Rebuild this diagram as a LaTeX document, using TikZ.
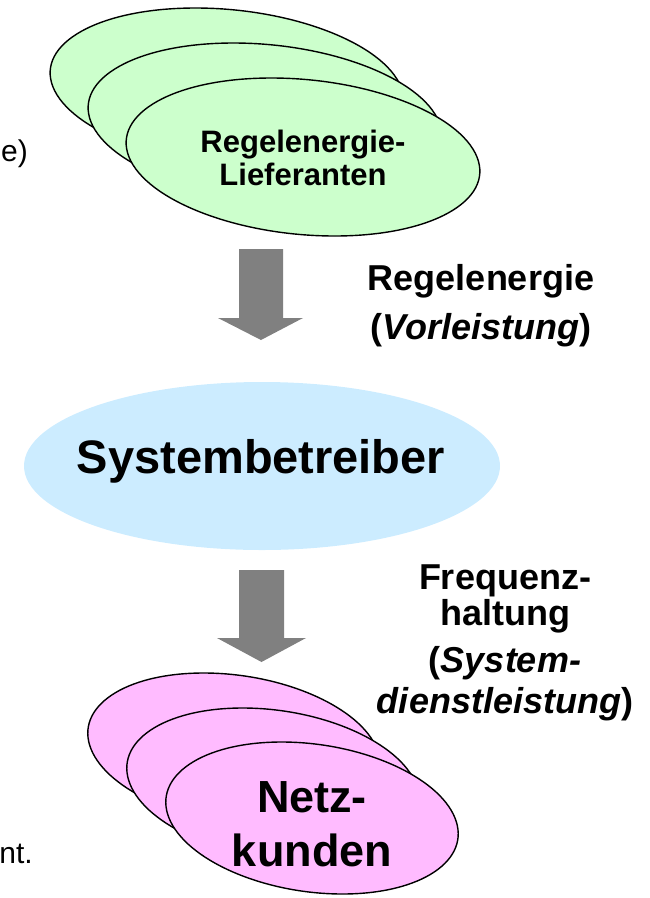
\documentclass[tikz,border=0pt]{standalone}
\usepackage{fontspec}
\setmainfont{Liberation Sans}
\definecolor{greenfill}{HTML}{CCFFCC}
\definecolor{bluefill}{HTML}{CCECFF}
\definecolor{pinkfill}{HTML}{FFBBFF}
\definecolor{arrowgray}{HTML}{808080}
\begin{document}
\begin{tikzpicture}[x=1pt,y=-1pt,
  stackell/.style={draw=black,line width=1.4pt},
  blockarrow/.style={fill=arrowgray,draw=none},
  lbl/.style={inner sep=0pt,align=center,font=\bfseries\fontsize{36}{36}\selectfont},
  cuttext/.style={inner sep=0pt,anchor=base east,font=\fontsize{30}{30}\selectfont}]
\useasboundingbox (0,0) rectangle (650,898);
% green stack
\foreach \cx/\cy in {227/87,265/122,303/157}{
  \begin{scope}[shift={(\cx,\cy)},xslant=-0.4]
    \draw[stackell,fill=greenfill] (0,0) ellipse [x radius=174pt,y radius=79pt];
  \end{scope}
}
\node[inner sep=0pt,align=center,anchor=base,font=\bfseries\fontsize{31}{33}\selectfont] (lief) at (303,185) {Regelenergie-\\Lieferanten};
% arrow 1
\fill[blockarrow] (239,249) -- (283,249) -- (283,318) -- (303,318) -- (261,340) -- (218,318) -- (239,318) -- cycle;
% blue
\fill[bluefill] (262,466) ellipse [x radius=238pt,y radius=84pt];
\node[inner sep=0pt,anchor=base,font=\bfseries\fontsize{47}{47}\selectfont] (sys) at (261,473) {Systembetreiber};
% arrow 2
\fill[blockarrow] (239,570) -- (284,570) -- (284,638) -- (306,638) -- (261.5,662) -- (217,638) -- (239,638) -- cycle;
% pink stack
\foreach \cx/\cy in {234/749,273/784,312/818}{
  \begin{scope}[shift={(\cx,\cy)},xslant=-0.4]
    \draw[stackell,fill=pinkfill] (0,0) ellipse [x radius=143pt,y radius=76pt];
  \end{scope}
}
\node[inner sep=0pt,align=center,anchor=base,font=\bfseries\fontsize{45}{54}\selectfont] (netz) at (312,866) {Netz-\\kunden};
% labels
\node[lbl,anchor=base] (l1) at (481,339) {Regelenergie\\[13pt](\textit{Vorleistung})};
\node[lbl,anchor=base] (l2) at (505,713) {Frequenz-\\[0pt]haltung\\[11pt](\textit{System-}\\[5pt]\textit{dienstleistung})};
% cut texts
\node[cuttext] (ce) at (28,161) {e)};
\node[cuttext] (cn) at (33,863) {nt.};
\end{tikzpicture}
\end{document}
